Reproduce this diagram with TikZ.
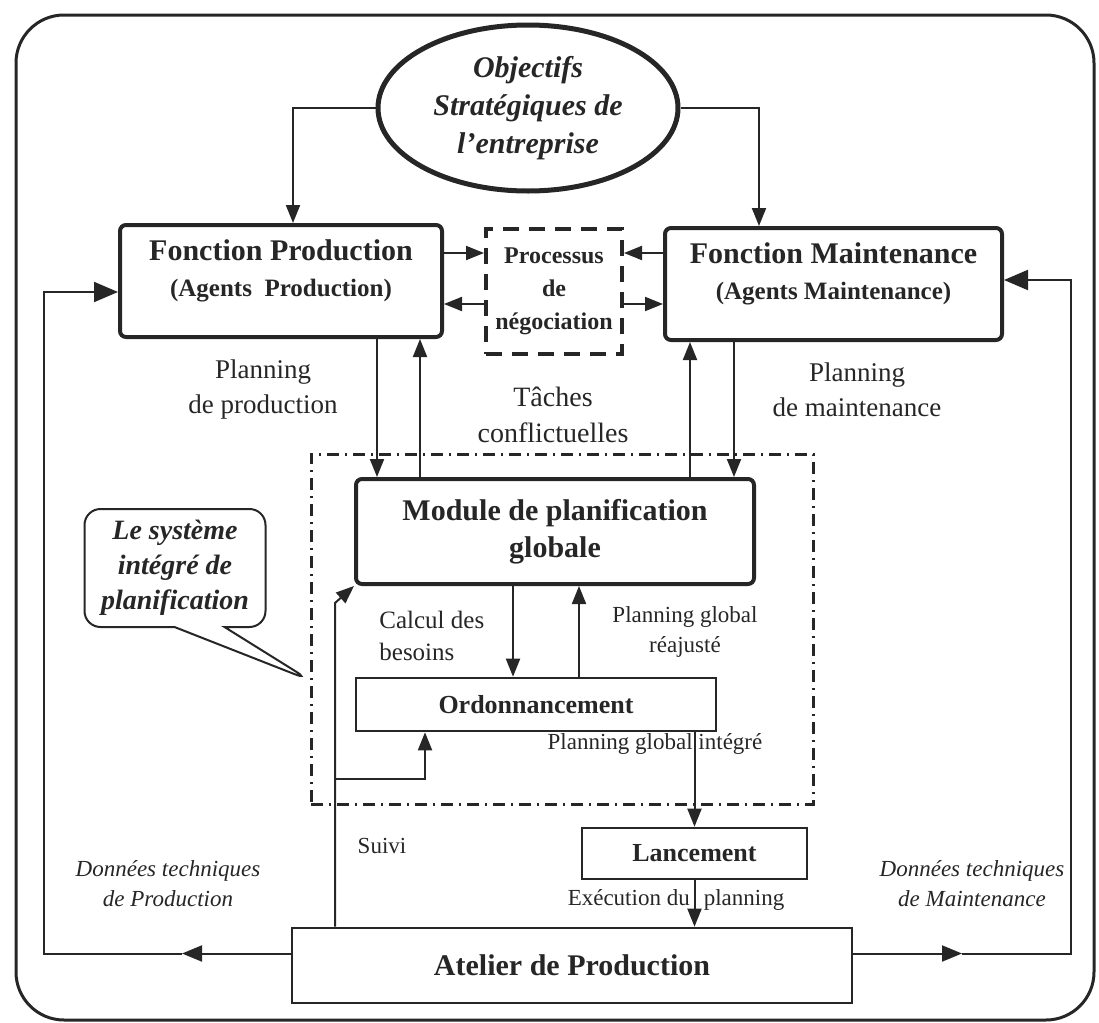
\documentclass[tikz,border=0pt]{standalone}
\usepackage{fontspec}
\setmainfont{Liberation Serif}
\usetikzlibrary{arrows.meta,calc,shapes.geometric,shapes.callouts}

\tikzset{
  fbox/.style={draw=black!85, line width=2pt, rounded corners=3pt, align=center, inner sep=0pt, text=black!85},
  tbox/.style={draw=black!85, line width=1.3pt, align=center, inner sep=0pt, text=black!85},
  negbox/.style={draw=black!85, line width=2pt, dash pattern=on 8pt off 5pt, align=center, inner sep=0pt, text=black!85},
  sysframe/.style={draw=black!85, line width=1.5pt, dash pattern=on 6pt off 3pt on 1pt off 3pt, inner sep=0pt},
  lbl/.style={align=center, inner sep=0pt, text=black!85},
  fl/.style={->, line width=1pt, draw=black!85},
  midfl/.style={-{Triangle[length=10pt,width=8pt]}, line width=1pt, draw=black!85},
  bigfl/.style={-{Triangle[length=12pt,width=10pt]}, line width=1pt, draw=black!85}
}

\begin{document}
\begin{tikzpicture}[x=0.5pt, y=-0.5pt, >={Triangle[length=9pt,width=7pt]}]
  \useasboundingbox (0,0) rectangle (1099,1023);
  \draw[black!85, line width=1.5pt, rounded corners=24pt] (16,15) rectangle (1094,1020);

  \coordinate (xPo) at (293,0);
  \coordinate (xMo) at (759,0);
  \coordinate (xPd) at (377,0);
  \coordinate (xPu) at (420,0);
  \coordinate (xMu) at (690,0);
  \coordinate (xMd) at (734,0);
  \coordinate (xCb) at (513,0);
  \coordinate (xRa) at (579,0);
  \coordinate (xSu) at (335,0);
  \coordinate (xOr) at (425,0);
  \coordinate (rA) at (0,253);
  \coordinate (rB) at (0,304);
  \coordinate (sv) at (335,603);
  \coordinate (sb) at (335,779);
  \coordinate (dP) at (182,953.5);
  \coordinate (lp) at (44,292);
  \coordinate (dM) at (962,953.5);
  \coordinate (rp) at (1071,280);

  \node[sysframe, minimum width=251pt, minimum height=175pt] (integ) at (562,629) {};

  \node[ellipse, draw=black!85, line width=2.5pt, minimum width=150pt, minimum height=83pt, inner sep=0pt,
        align=center, text=black!85, font=\fontsize{15}{19}\selectfont\bfseries\itshape]
        (obj) at (528,108) {Objectifs\\Stratégiques de\\l’entreprise};

  \node[fbox, minimum width=161pt, minimum height=56pt, font=\fontsize{15}{18}\selectfont\bfseries]
        (prod) at (281,281) {Fonction Production\\{\fontsize{12.5}{15}\selectfont (Agents~ Production)}\\[-5pt]\mbox{}};
  \node[fbox, minimum width=168.5pt, minimum height=56pt, font=\fontsize{15}{18}\selectfont\bfseries]
        (maint) at (833.5,284) {Fonction Maintenance\\{\fontsize{12.5}{15}\selectfont (Agents Maintenance)}\\[-5pt]\mbox{}};
  \node[negbox, minimum width=68pt, minimum height=62.5pt, font=\fontsize{12}{16.5}\selectfont\bfseries]
        (neg) at (554,291.5) {Processus\\de\\négociation};

  \node[fbox, minimum width=199pt, minimum height=52.5pt, font=\fontsize{15}{18.5}\selectfont\bfseries]
        (module) at (555,531.5) {Module de planification\\globale};
  \node[tbox, minimum width=180pt, minimum height=26.5pt, font=\fontsize{13}{15}\selectfont\bfseries]
        (ord) at (536,704.5) {Ordonnancement};
  \node[tbox, minimum width=112.5pt, minimum height=25.5pt, font=\fontsize{13}{15}\selectfont\bfseries]
        (lanc) at (694.5,853.5) {Lancement};
  \node[tbox, minimum width=280pt, minimum height=37.5pt, font=\fontsize{15}{18}\selectfont\bfseries]
        (atel) at (572,965.5) {Atelier de Production};

  \node[rectangle callout, draw=black!85, line width=1pt, rounded corners=8pt, minimum width=90.5pt,
        minimum height=59pt, inner sep=0pt, align=center, text=black!85,
        font=\fontsize{14}{17.5}\selectfont\bfseries\itshape,
        callout absolute pointer={($(integ.west)+(0,51)$)}, callout pointer width=25pt]
        (sysc) at (175,568) {Le système\\intégré de\\planification};

  \node[lbl, font=\fontsize{13.5}{17.5}\selectfont] (lPp) at (263,390) {Planning\\de production};
  \node[lbl, font=\fontsize{13.5}{17.5}\selectfont] (lPm) at (857,390) {Planning\\de maintenance};
  \node[lbl, font=\fontsize{14}{18}\selectfont] (lTc) at (553,415) {Tâches\\conflictuelles};
  \node[lbl, align=left, anchor=west, font=\fontsize{12.5}{16}\selectfont] (lCb) at (379,636) {Calcul des\\besoins};
  \node[lbl, font=\fontsize{11.5}{15}\selectfont] (lRa) at (685,632) {Planning global\\réajusté};
  \node[lbl, font=\fontsize{11.5}{15}\selectfont] (lGi) at (655,744) {Planning global intégré};
  \node[lbl, font=\fontsize{11.5}{15}\selectfont] (lEx) at (676,900) {Exécution du\hspace{7pt}planning};
  \node[lbl, font=\fontsize{11.5}{15}\selectfont] (lSv) at (382,846) {Suivi};
  \node[lbl, font=\fontsize{11.5}{15}\selectfont\itshape] (lDp) at (168,884) {Données techniques\\de Production};
  \node[lbl, font=\fontsize{11.5}{15}\selectfont\itshape] (lDm) at (972,884) {Données techniques\\de Maintenance};

  \draw[fl] (obj.west) -| (prod.north -| xPo);
  \draw[fl] (obj.east) -| (maint.north -| xMo);

  \draw[fl] (prod.east |- rA) -- (neg.west |- rA);
  \draw[fl] (neg.west |- rB) -- (prod.east |- rB);
  \draw[fl] (maint.west |- rA) -- (neg.east |- rA);
  \draw[fl] (neg.east |- rB) -- (maint.west |- rB);

  \draw[fl] (prod.south -| xPd) -- (module.north -| xPd);
  \draw[fl] (module.north -| xPu) -- (prod.south -| xPu);
  \draw[fl] (module.north -| xMu) -- (maint.south -| xMu);
  \draw[fl] (maint.south -| xMd) -- (module.north -| xMd);

  \draw[fl] (module.south -| xCb) -- (ord.north -| xCb);
  \draw[fl] (ord.north -| xRa) -- (module.south -| xRa);
  \draw[fl] (ord.south -| lanc.north) -- (lanc.north);
  \draw[fl] (lanc.south) -- (atel.north -| lanc.south);

  \draw[fl] (atel.north -| xSu) -- (sv) -- (module.south west);
  \draw[fl] (sb) -| (ord.south -| xOr);

  \draw[midfl] ([yshift=6pt]atel.west) -- (dP);
  \draw[bigfl] (dP) -| (lp) -- (prod.west |- lp);
  \draw[midfl] ([yshift=6pt]atel.east) -- (dM);
  \draw[bigfl] (dM) -| (rp) -- (maint.east |- rp);
\end{tikzpicture}
\end{document}
